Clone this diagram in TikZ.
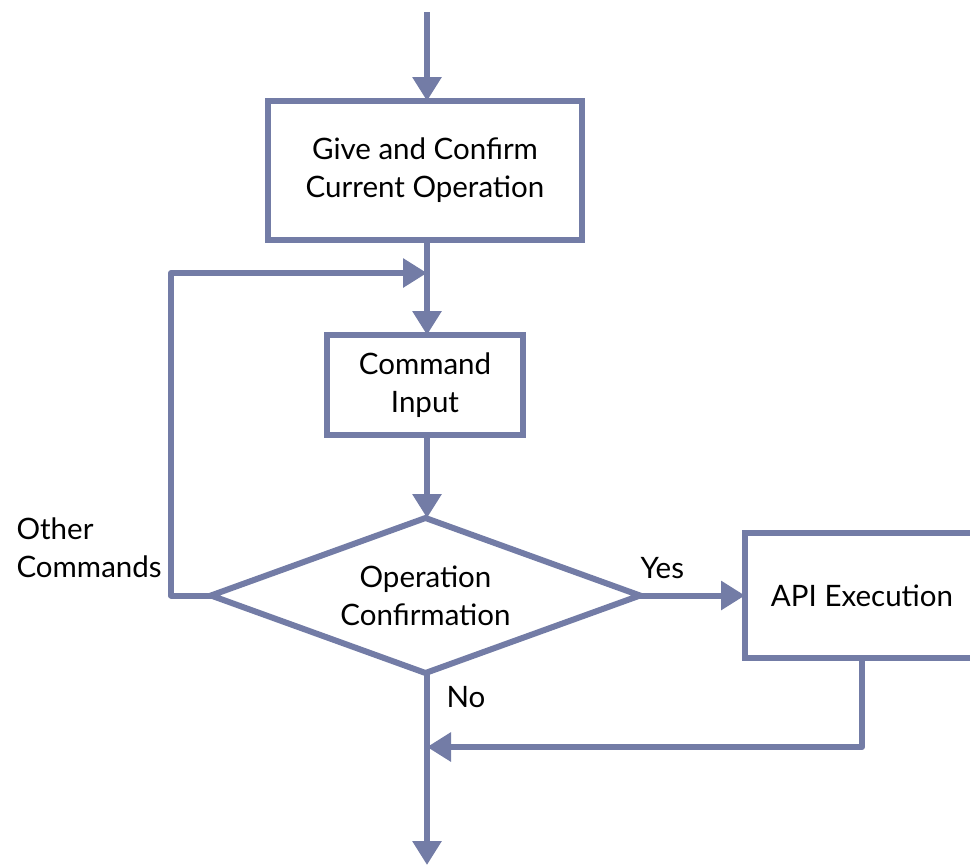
\documentclass[tikz,border=0pt]{standalone}
\usepackage{fontspec}
\setmainfont{Lato}
\usetikzlibrary{arrows.meta,shapes.geometric}
\definecolor{flowline}{RGB}{115,124,166}
\begin{document}
\begin{tikzpicture}[x=1pt,y=-1pt,
  every node/.style={font=\fontsize{29.5}{38}\selectfont, text=black},
  flowbox/.style={draw=flowline, line width=6pt, rectangle, align=center, inner sep=0pt, outer sep=0pt},
  decision/.style={draw=flowline, line width=6pt, diamond, aspect=2.77, align=center, inner sep=0pt, outer sep=0pt,
    minimum width=429pt, minimum height=155pt},
  flow/.style={draw=flowline, line width=6pt, line join=round,
    -{Triangle[width=28pt,length=24pt]}},
  plain/.style={draw=flowline, line width=6pt, line join=round}]
\useasboundingbox (0,0) rectangle (970,865);
\clip (0,0) rectangle (970,865);

% process steps
\node[flowbox, minimum width=314pt, minimum height=139pt] (give) at (425,170.5)
  {Give and Confirm\\Current Operation};
\node[flowbox, minimum width=196pt, minimum height=100pt] (cmd) at (425,385)
  {Command\\Input};
\node[decision] (conf) at (425.5,595.5) {Operation\\Confirmation};
\node[flowbox, minimum width=234pt, minimum height=125pt] (api) at (862,595.5)
  {API Execution};

% free ends and junctions
\coordinate (start) at (427,12);
\coordinate (finish) at (427,865);
\coordinate (loopjoin) at (427,273);
\coordinate (mergejoin) at (427,747);

% main line
\draw[flow] (start) -- (start |- give.north);
\draw[flow] (give.south -| start) -- (cmd.north -| start);
\draw[flow] (cmd.south -| start) -- (conf.north -| start);
\draw[flow] (conf.south -| start) -- (finish);

% other commands loop back
\draw[flow] (conf.west) -- ++(-40,0) |- (loopjoin);

% yes branch and return
\draw[flow] (conf.east) -- (api.west);
\draw[flow] (api.south) |- (mergejoin);

% labels
\node[anchor=base west] (yes) at (637,578) {Yes};
\node[anchor=base west] (no) at (443,707) {No};
\node[anchor=base west, align=left] (other) at (13,577) {Other\\Commands};
\end{tikzpicture}
\end{document}
